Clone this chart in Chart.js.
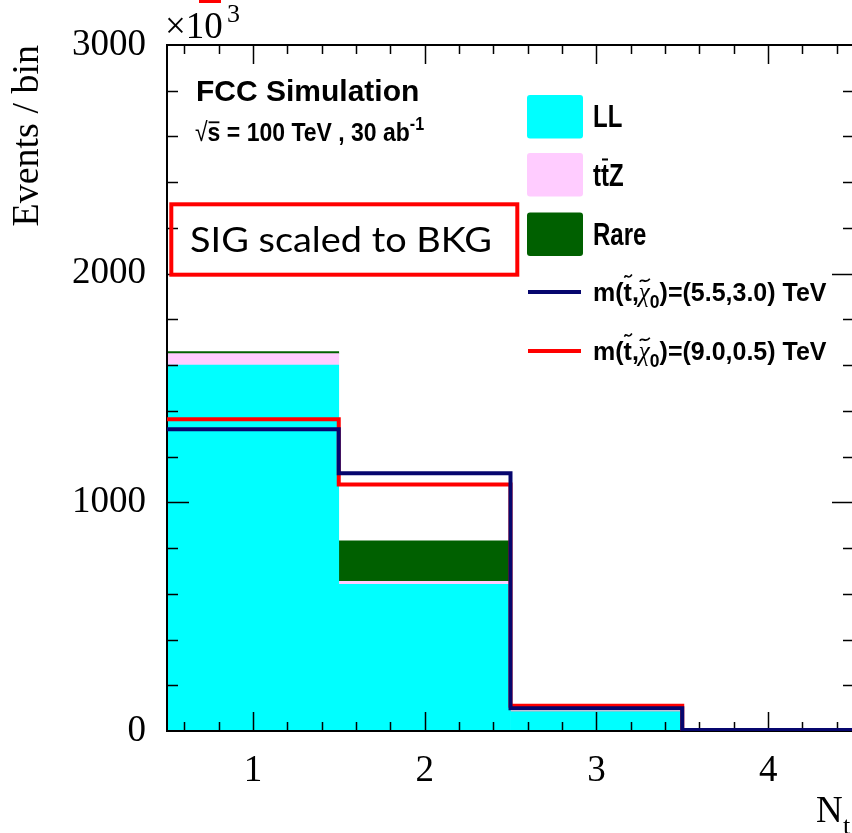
<!DOCTYPE html>
<html>
<head>
<meta charset="utf-8">
<script src="https://cdn.jsdelivr.net/npm/chart.js"></script>
<style>
    html, body { margin: 0; padding: 0; background: #fff; overflow: hidden; }
    .wrap { width: 852px; height: 833px; overflow: hidden; }
    canvas { display: block; }
</style>
</head>
<body>
<div class="wrap"><canvas id="chart" width="870" height="833"></canvas></div>
<script>
// Bin centres (number of tops) and their width
const binCenters = [1, 2, 3, 4];
const binWidth = 1;

// Background stack, events per bin (x10^3)
const llValues = [1600, 641, 84, 2];
const ttzValues = [50, 13, 1, 0];
const rareValues = [9, 178, 1, 0];

// Signal points, scaled to the background total
const sigLowValues = [1320, 1127, 100, 4];   // (5.5, 3.0) TeV
const sigHighValues = [1363, 1078, 110, 3];  // (9.0, 0.5) TeV

const seriesNames = ['LL', 'tt\u0304Z', 'Rare', 'm(t\u0303,\u03c7\u0303\u2080)=(5.5,3.0) TeV', 'm(t\u0303,\u03c7\u0303\u2080)=(9.0,0.5) TeV'];

// Axis ticks
const xTickValues = [1, 2, 3, 4];
const yTickValues = [0, 1000, 2000, 3000];

const serif = 'Liberation Serif';
const sans = 'Liberation Sans';

// Floating bars so each component sits on the ones below it
const stackBars = (layers) => {
    let base = binCenters.map(() => 0);
    return layers.map(vals => {
        const bars = binCenters.map((c, i) => ({ x: c, y: [base[i], base[i] + vals[i]] }));
        base = base.map((b, i) => b + vals[i]);
        return bars;
    });
};
const [llBars, ttzBars, rareBars] = stackBars([llValues, ttzValues, rareValues]);

// Histogram outline: left edge of each bin, plus the last right edge
const stepData = (vals) => {
    const pts = binCenters.map((c, i) => ({ x: c - binWidth / 2, y: vals[i] }));
    pts.push({ x: binCenters[binCenters.length - 1] + binWidth / 2, y: vals[vals.length - 1] });
    return pts;
};

// Rich text pieces for the legend and the header
const richLabels = {
    1: [{ t: 't' }, { t: 't', bar: true }, { t: 'Z' }],
    3: [{ t: 'm(' }, { t: 't', tilde: true }, { t: ',' }, { t: '\u03c7', tilde: true, style: 'italic', family: serif }, { t: '0', sub: true }, { t: ')=(5.5,3.0) TeV' }],
    4: [{ t: 'm(' }, { t: 't', tilde: true }, { t: ',' }, { t: '\u03c7', tilde: true, style: 'italic', family: serif }, { t: '0', sub: true }, { t: ')=(9.0,0.5) TeV' }]
};

function drawRich(ctx, parts, x, y, size, sy) {
    ctx.save();
    ctx.translate(x, y);
    ctx.scale(1, sy);
    ctx.textBaseline = 'alphabetic';
    ctx.textAlign = 'left';
    let cx = 0;
    for (const p of parts) {
        const fs = (p.sub || p.sup) ? size * 0.7 : size;
        ctx.font = `${p.style || 'bold'} ${fs}px ${p.family || sans}`;
        const dy = p.sub ? size * 0.3 : p.sup ? -size * 0.42 : 0;
        ctx.fillText(p.t, cx, dy);
        const w = ctx.measureText(p.t).width;
        const top = dy - size * (p.t === 't' ? 0.78 : 0.62);
        ctx.lineWidth = 1.6;
        ctx.strokeStyle = ctx.fillStyle;
        if (p.bar) {
            ctx.beginPath();
            ctx.moveTo(cx + 1, top - 2);
            ctx.lineTo(cx + w - 1, top - 2);
            ctx.stroke();
        }
        if (p.tilde) {
            const ty = top - 3;
            ctx.beginPath();
            ctx.moveTo(cx + 1, ty + 1);
            ctx.bezierCurveTo(cx + w * 0.3, ty - 4, cx + w * 0.55, ty + 4, cx + w, ty - 2);
            ctx.stroke();
        }
        cx += w;
    }
    ctx.restore();
}

// Frame with ROOT style ticks on all four sides
function drawFrame(chart) {
    const ctx = chart.ctx, a = chart.chartArea;
    const xs = chart.scales.x, ys = chart.scales.y;
    ctx.save();
    ctx.strokeStyle = '#000';
    ctx.lineWidth = 1.5;
    ctx.beginPath();
    for (let k = 3; k <= 22; k++) {
        const v = k * 0.2;
        const px = Math.round(xs.getPixelForValue(v)) + 0.5;
        const len = Math.abs(v - Math.round(v)) < 1e-6 ? 19 : 9;
        ctx.moveTo(px, a.bottom); ctx.lineTo(px, a.bottom - len);
        ctx.moveTo(px, a.top); ctx.lineTo(px, a.top + len);
    }
    for (let k = 1; k <= 14; k++) {
        const v = k * 200;
        const py = Math.round(ys.getPixelForValue(v)) + 0.5;
        const len = k % 5 === 0 ? 22 : 11;
        ctx.moveTo(a.left, py); ctx.lineTo(a.left + len, py);
        ctx.moveTo(a.right, py); ctx.lineTo(a.right - len, py);
    }
    ctx.stroke();
    ctx.lineWidth = 2;
    ctx.strokeRect(a.left, a.top, a.right - a.left, a.bottom - a.top);
    ctx.restore();
}

const decorations = {
    id: 'decorations',
    afterDatasetDraw(chart, args) {
        if (args.index === 0) drawFrame(chart);
    },
    afterDraw(chart) {
        const ctx = chart.ctx;
        ctx.save();
        ctx.fillStyle = '#000';
        ctx.textBaseline = 'alphabetic';

        // axis exponent and x title
        ctx.font = `37px ${serif}`;
        ctx.fillText('\u00d710', 165, 38);
        ctx.font = `26px ${serif}`;
        ctx.fillText('3', 227, 22);
        ctx.font = `37px ${serif}`;
        ctx.fillText('N', 816, 822);
        ctx.font = `26px ${serif}`;
        ctx.fillText('t', 843, 834);

        // header
        ctx.font = `bold 30px ${sans}`;
        ctx.fillText('FCC Simulation', 196, 101);
        drawRich(ctx, [
            { t: '\u221a', style: 'normal' }, { t: 's', bar: true },
            { t: ' = 100 TeV , 30 ab' }, { t: '-1', sup: true }
        ], 195, 141, 23, 1.15);

        // legend
        const ds = chart.data.datasets;
        const boxTops = [95, 153, 212.5];
        const textBase = [126.5, 186, 245];
        for (let i = 0; i < 3; i++) {
            ctx.fillStyle = ds[i].backgroundColor;
            ctx.beginPath();
            ctx.roundRect(527, boxTops[i], 56, 43.5, 3);
            ctx.fill();
            ctx.fillStyle = '#000';
            drawRich(ctx, richLabels[i] || [{ t: ds[i].label }], 593, textBase[i], 24, 1.28);
        }
        const lineYs = [292, 351];
        const lineBase = [300.5, 359.5];
        for (let j = 0; j < 2; j++) {
            const d = ds[3 + j];
            ctx.strokeStyle = d.borderColor;
            ctx.lineWidth = 4;
            ctx.beginPath();
            ctx.moveTo(528, lineYs[j]);
            ctx.lineTo(581, lineYs[j]);
            ctx.stroke();
            ctx.fillStyle = '#000';
            drawRich(ctx, richLabels[3 + j], 593, lineBase[j], 25, 1.06);
        }

        // note box
        ctx.strokeStyle = '#ff0000';
        ctx.lineWidth = 4;
        ctx.strokeRect(171.3, 204.3, 346, 70.4);
        ctx.lineWidth = 3;
        ctx.strokeRect(200.5, -12, 19, 13.5);
        ctx.fillStyle = '#000';
        ctx.font = '35px Lato';
        const note = 'SIG scaled to BKG';
        const w = ctx.measureText(note).width;
        ctx.save();
        ctx.translate(190, 251.7);
        ctx.scale(302 / w, 1);
        ctx.fillText(note, 0, 0);
        ctx.restore();

        ctx.restore();
    }
};

new Chart(document.getElementById('chart'), {
    type: 'bar',
    data: {
        datasets: [
            { label: seriesNames[0], data: llBars, backgroundColor: '#00ffff', order: 1, grouped: false },
            { label: seriesNames[1], data: ttzBars, backgroundColor: '#ffccff', order: 1, grouped: false },
            { label: seriesNames[2], data: rareBars, backgroundColor: '#006000', order: 1, grouped: false },
            {
                type: 'line', label: seriesNames[3], data: stepData(sigLowValues),
                borderColor: '#06066e', borderWidth: 4, pointRadius: 0, stepped: 'before', order: 0
            },
            {
                type: 'line', label: seriesNames[4], data: stepData(sigHighValues),
                borderColor: '#ff0000', borderWidth: 4, pointRadius: 0, stepped: 'before', order: 0
            }
        ]
    },
    options: {
        responsive: false,
        animation: false,
        events: [],
        barPercentage: 1,
        categoryPercentage: 1,
        borderWidth: 0,
        layout: { padding: { top: 45, right: 16, left: 0, bottom: 0 } },
        plugins: { legend: { display: false }, tooltip: { enabled: false } },
        scales: {
            x: {
                type: 'linear',
                min: 0.5,
                max: 4.5,
                offset: false,
                grid: { display: false, drawTicks: false },
                border: { display: false },
                afterBuildTicks: (s) => { s.ticks = xTickValues.map(v => ({ value: v })); },
                afterFit: (s) => { s.height = 102; },
                ticks: { padding: 18, color: '#000', font: { family: serif, size: 37 }, maxRotation: 0, callback: (v) => String(v) }
            },
            y: {
                min: 0,
                max: 3000,
                grid: { display: false, drawTicks: false },
                border: { display: false },
                afterBuildTicks: (s) => { s.ticks = yTickValues.map(v => ({ value: v })); },
                afterFit: (s) => { s.width = 167; },
                ticks: { padding: 21, color: '#000', font: { family: serif, size: 37 }, callback: (v) => String(v) },
                title: {
                    display: true, text: 'Events / bin', align: 'end', color: '#000',
                    font: { family: serif, size: 38 }, padding: { top: 5, bottom: 0 }
                }
            }
        }
    },
    plugins: [decorations]
});
</script>
</body>
</html>
